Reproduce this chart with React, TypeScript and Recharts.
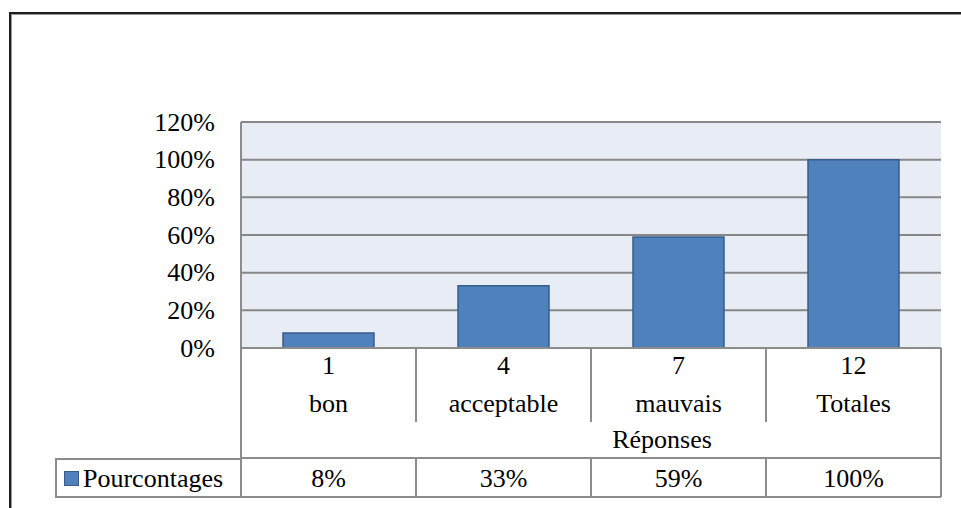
import React from 'react';
import { BarChart, Bar, XAxis, YAxis, CartesianGrid, Legend } from 'recharts';

const counts = ['1', '4', '7', '12'];
const categories = ['bon', 'acceptable', 'mauvais', 'Totales'];
const percentages = [0.08, 0.33, 0.59, 1.0];
const percentLabels = ['8%', '33%', '59%', '100%'];
const yTicks = [0, 0.2, 0.4, 0.6, 0.8, 1.0, 1.2];
const seriesName = 'Pourcontages';
const axisTitle = 'Réponses';

const data = categories.map((c, i) => ({
  name: c,
  count: counts[i],
  value: percentages[i],
  label: percentLabels[i],
}));

const FONT = '"Liberation Serif", "Times New Roman", serif';
const FS = 26;
const LINE = '#8c8c8c';
const BAR_FILL = '#4F81BD';
const BAR_STROKE = '#385D8A';

function CategoryTick(props: any) {
  const { x, y, payload, index, width, visibleTicksCount } = props;
  const half =
    payload && typeof payload.offset === 'number' && payload.offset > 0
      ? payload.offset
      : width / (visibleTicksCount || data.length) / 2;
  const row = data[index];
  const left = x - half;
  const right = x + half;
  const last = index === data.length - 1;
  return (
    <g>
      <text x={x} y={y + 26} textAnchor="middle" fontFamily={FONT} fontSize={FS} fill="#000">
        {row.count}
      </text>
      <text x={x} y={y + 64} textAnchor="middle" fontFamily={FONT} fontSize={FS} fill="#000">
        {row.name}
      </text>
      <text x={x} y={y + 138.5} textAnchor="middle" fontFamily={FONT} fontSize={FS} fill="#000">
        {row.label}
      </text>
      {index === 0 && <line x1={left} x2={left} y1={y} y2={y + 149} stroke={LINE} strokeWidth={2} />}
      {!last && <line x1={right} x2={right} y1={y} y2={y + 74} stroke={LINE} strokeWidth={2} />}
      <line x1={right} x2={right} y1={y + 110} y2={y + 149} stroke={LINE} strokeWidth={2} />
      {last && <line x1={right} x2={right} y1={y} y2={y + 149} stroke={LINE} strokeWidth={2} />}
      <line x1={left} x2={right} y1={y + 110} y2={y + 110} stroke={LINE} strokeWidth={2} />
      <line x1={left} x2={right} y1={y + 149} y2={y + 149} stroke={LINE} strokeWidth={2} />
    </g>
  );
}

function AxisTitle(props: any) {
  const vb = props.viewBox || {};
  return (
    <text
      x={vb.x + vb.width / 2 + 71}
      y={vb.y + 100}
      textAnchor="middle"
      fontFamily={FONT}
      fontSize={FS}
      fill="#000"
    >
      {axisTitle}
    </text>
  );
}

function LegendCell() {
  return (
    <div
      style={{
        boxSizing: 'border-box',
        width: 186,
        height: 40,
        borderLeft: `2px solid ${LINE}`,
        borderTop: `2px solid ${LINE}`,
        borderBottom: `2px solid ${LINE}`,
        display: 'flex',
        alignItems: 'center',
        fontFamily: FONT,
        fontSize: FS,
        color: '#000',
        lineHeight: 1,
      }}
    >
      <span
        style={{
          display: 'inline-block',
          width: 13,
          height: 13,
          marginLeft: 7,
          marginRight: 4,
          background: BAR_FILL,
          border: `1px solid ${BAR_STROKE}`,
        }}
      />
      <span style={{ position: 'relative', top: 1 }}>{seriesName}</span>
    </div>
  );
}

function YTick(props: any) {
  const { x, y, payload } = props;
  return (
    <text x={x} y={y + 8.8} textAnchor="end" fontFamily={FONT} fontSize={FS} fill="#000">
      {Math.round(payload.value * 100) + '%'}
    </text>
  );
}

export default function App() {
  return (
    <div
      style={{
        position: 'absolute',
        left: 0,
        top: 0,
        width: 961,
        height: 508,
        overflow: 'hidden',
        background: '#fff',
      }}
    >
      <div
        style={{
          position: 'absolute',
          left: 9,
          top: 12,
          width: 1000,
          height: 600,
          borderLeft: '2px solid #1e1e1e',
          borderTop: '2px solid #1e1e1e',
          boxShadow: 'inset 1px 1px 0 #9a9a9a',
        }}
      />
      <div style={{ position: 'absolute', left: 0, top: 0 }}>
        <BarChart
          width={961}
          height={508}
          data={data}
          margin={{ top: 122, right: 20, bottom: 10, left: 141 }}
          barCategoryGap="24%"
        >
          <CartesianGrid vertical={false} stroke="#878787" strokeWidth={2} fill="#E8ECF4" />
          <YAxis
            width={100}
            domain={[0, 1.2]}
            ticks={yTicks}
            interval={0}
            tickLine={false}
            tickSize={0}
            tickMargin={26}
            axisLine={{ stroke: LINE, strokeWidth: 2 }}
            tick={<YTick />}
          />
          <XAxis
            dataKey="name"
            height={150}
            interval={0}
            tickLine={false}
            tickSize={0}
            tickMargin={0}
            axisLine={{ stroke: LINE, strokeWidth: 2 }}
            tick={<CategoryTick />}
            label={<AxisTitle />}
          />
          <Legend
            layout="horizontal"
            verticalAlign="middle"
            align="center"
            content={<LegendCell />}
            wrapperStyle={{ position: 'absolute', left: 55, top: 458, width: 186, height: 40 }}
          />
          <Bar
            dataKey="value"
            name={seriesName}
            fill={BAR_FILL}
            stroke={BAR_STROKE}
            strokeWidth={1.5}
            isAnimationActive={false}
          />
        </BarChart>
      </div>
    </div>
  );
}
